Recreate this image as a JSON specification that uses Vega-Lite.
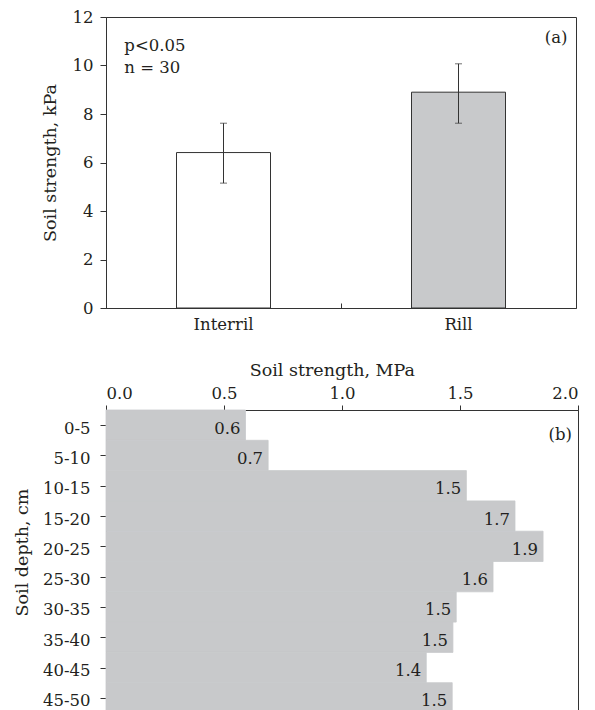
{
  "$schema": "https://vega.github.io/schema/vega-lite/v6.json",
  "padding": {"left": 13, "top": 8, "right": 2, "bottom": 0},
  "bounds": "flush",
  "spacing": 102,
  "config": {
    "font": "DejaVu Serif",
    "view": {"stroke": "#333333", "strokeWidth": 1},
    "axis": {
      "labelFont": "DejaVu Serif", "titleFont": "DejaVu Serif",
      "labelFontSize": 16.5, "titleFontSize": 17.5,
      "labelColor": "#231f20", "titleColor": "#231f20",
      "titleFontWeight": "normal", "domainColor": "#333333", "tickColor": "#333333",
      "grid": false
    },
    "text": {"font": "DejaVu Serif", "fontSize": 16.5, "fontWeight": "normal"}
  },
  "vconcat": [
    {
      "width": 470,
      "height": 291,
      "data": {"values": [
        {"site": "Interril", "mean": 6.41, "lo": 5.15, "hi": 7.62},
        {"site": "Rill", "mean": 8.9, "lo": 7.62, "hi": 10.07}
      ]},
      "resolve": {"scale": {"x": "independent"}, "axis": {"x": "independent"}},
      "layer": [
        {
          "mark": {"type": "bar", "stroke": "#333333", "strokeWidth": 1, "width": {"band": 0.4}},
          "encoding": {
            "x": {"field": "site", "type": "nominal", "scale": {"paddingInner": 0, "paddingOuter": 0},
                  "axis": {"orient": "bottom", "title": null, "labelAngle": 0, "ticks": false, "labelPadding": 8}},
            "y": {"field": "mean", "type": "quantitative", "title": "Soil strength, kPa", "scale": {"domain": [0, 12]},
                  "axis": {"values": [0, 2, 4, 6, 8, 10, 12], "tickSize": 6, "labelPadding": 7, "titleX": -50.7, "titleBaseline": "alphabetic"}},
            "fill": {"field": "site", "type": "nominal", "scale": {"domain": ["Interril", "Rill"], "range": ["#ffffff", "#c8c9cb"]}, "legend": null}
          }
        },
        {
          "mark": {"type": "rule", "color": "#333333", "strokeWidth": 1},
          "encoding": {
            "x": {"field": "site", "type": "nominal", "scale": {"paddingInner": 0, "paddingOuter": 0},
                  "axis": {"orient": "bottom", "title": null, "labels": false, "domain": false, "bandPosition": 0, "tickSize": -5}},
            "y": {"field": "lo", "type": "quantitative", "title": "Soil strength, kPa"},
            "y2": {"field": "hi"}
          }
        },
        {
          "mark": {"type": "tick", "orient": "horizontal", "color": "#333333", "size": 7, "thickness": 1},
          "encoding": {
            "x": {"field": "site", "type": "nominal", "scale": {"paddingInner": 0, "paddingOuter": 0}, "axis": null},
            "y": {"field": "lo", "type": "quantitative", "title": "Soil strength, kPa"}
          }
        },
        {
          "mark": {"type": "tick", "orient": "horizontal", "color": "#333333", "size": 7, "thickness": 1},
          "encoding": {
            "x": {"field": "site", "type": "nominal", "scale": {"paddingInner": 0, "paddingOuter": 0}, "axis": null},
            "y": {"field": "hi", "type": "quantitative", "title": "Soil strength, kPa"}
          }
        },
        {
          "data": {"values": [{"note": "p<0.05"}]},
          "mark": {"type": "text", "align": "left", "baseline": "middle", "fill": "#231f20"},
          "encoding": {
            "x": {"datum": 0.039, "type": "quantitative", "scale": {"domain": [0, 1]}, "axis": null},
            "y": {"datum": 10.79, "type": "quantitative"},
            "text": {"field": "note"}
          }
        },
        {
          "data": {"values": [{"note": "n = 30"}]},
          "mark": {"type": "text", "align": "left", "baseline": "middle", "fill": "#231f20"},
          "encoding": {
            "x": {"datum": 0.039, "type": "quantitative", "scale": {"domain": [0, 1]}, "axis": null},
            "y": {"datum": 9.88, "type": "quantitative"},
            "text": {"field": "note"}
          }
        },
        {
          "data": {"values": [{"note": "(a)"}]},
          "mark": {"type": "text", "align": "right", "baseline": "middle", "fill": "#231f20"},
          "encoding": {
            "x": {"datum": 0.982, "type": "quantitative", "scale": {"domain": [0, 1]}, "axis": null},
            "y": {"datum": 11.13, "type": "quantitative"},
            "text": {"field": "note"}
          }
        }
      ]
    },
    {
      "width": 472,
      "height": 303,
      "data": {"values": [
        {"depth": "0-5", "v": 0.591, "lab": "0.6"},
        {"depth": "5-10", "v": 0.687, "lab": "0.7"},
        {"depth": "10-15", "v": 1.527, "lab": "1.5"},
        {"depth": "15-20", "v": 1.733, "lab": "1.7"},
        {"depth": "20-25", "v": 1.852, "lab": "1.9"},
        {"depth": "25-30", "v": 1.64, "lab": "1.6"},
        {"depth": "30-35", "v": 1.484, "lab": "1.5"},
        {"depth": "35-40", "v": 1.47, "lab": "1.5"},
        {"depth": "40-45", "v": 1.357, "lab": "1.4"},
        {"depth": "45-50", "v": 1.467, "lab": "1.5"}
      ]},
      "resolve": {"scale": {"y": "independent"}, "axis": {"y": "independent"}},
      "layer": [
        {
          "mark": {"type": "bar", "fill": "#c8c9cb", "stroke": "#c8c9cb", "strokeWidth": 0.8},
          "encoding": {
            "y": {"field": "depth", "type": "ordinal", "sort": null, "scale": {"paddingInner": 0, "paddingOuter": 0},
                  "axis": {"orient": "left", "title": "Soil depth, cm", "ticks": false, "labelPadding": 16, "labelOffset": 3.5,
                           "titleX": -78.4, "titleY": 142, "titleBaseline": "alphabetic"}},
            "x": {"field": "v", "type": "quantitative", "title": "Soil strength, MPa", "scale": {"domain": [0, 2]},
                  "axis": {"orient": "top", "values": [0, 0.5, 1, 1.5, 2], "format": ".1f", "tickSize": 5, "labelPadding": 4,
                           "titleX": 225.8, "titlePadding": 6}}
          }
        },
        {
          "mark": {"type": "text", "align": "right", "baseline": "middle", "dx": -5, "dy": 3.5, "fill": "#231f20"},
          "encoding": {
            "y": {"field": "depth", "type": "ordinal", "sort": null, "scale": {"paddingInner": 0, "paddingOuter": 0},
                  "axis": {"orient": "left", "labels": false, "domain": false, "title": null, "bandPosition": 0, "tickSize": 6}},
            "x": {"field": "v", "type": "quantitative", "title": "Soil strength, MPa"},
            "text": {"field": "lab"}
          }
        },
        {
          "data": {"values": [{"note": "(b)"}]},
          "mark": {"type": "text", "align": "right", "baseline": "middle", "dx": -6, "dy": 10, "fill": "#231f20"},
          "encoding": {
            "x": {"datum": 2, "type": "quantitative"},
            "y": {"datum": "0-5", "type": "ordinal",
                  "scale": {"domain": ["0-5", "5-10", "10-15", "15-20", "20-25", "25-30", "30-35", "35-40", "40-45", "45-50"], "paddingInner": 0, "paddingOuter": 0},
                  "axis": null},
            "text": {"field": "note"}
          }
        }
      ]
    }
  ]
}
